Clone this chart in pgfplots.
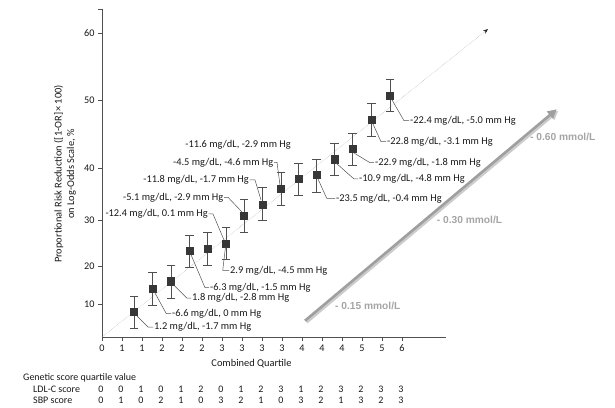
\documentclass[border=0pt]{standalone}
\usepackage{pgfplots}
\pgfplotsset{compat=1.18}
\usetikzlibrary{arrows.meta}
\usepackage{fontspec}
\setmainfont{Carlito}
\newfontfamily\grayfont{Liberation Sans}
\definecolor{axgray}{RGB}{80,80,80}
\definecolor{mkgray}{RGB}{55,55,55}
\definecolor{lblgray}{RGB}{165,165,165}
\begin{document}
\begin{tikzpicture}
\begin{axis}[
  at={(102pt,70pt)}, anchor=south west,
  scale only axis, width=344pt, height=328pt,
  xmin=0, xmax=17.2, ymin=0, ymax=63.6,
  clip=false,
  y coord trafo/.code={\pgfmathparse{(#1)<10 ? 3.3*(#1) : ((#1)<20 ? 33+3.8*((#1)-10) : ((#1)<30 ? 71+4.6*((#1)-20) : ((#1)<40 ? 117+5.2*((#1)-30) : ((#1)<50 ? 169+6.8*((#1)-40) : 237+6.7*((#1)-50)))))}},
  axis x line*=bottom, axis y line*=left,
  ytick={10,20,30,40,50,60}, yticklabels={10,20,30,40,50,60},
  extra y ticks={63.6}, extra y tick labels={},
  xtick={0,1,...,15}, xticklabels={0,1,1,2,2,2,3,3,3,3,4,4,4,5,5,6},
  tick align=outside, major tick length=4pt,
  tick style={axgray, line width=0.6pt},
  axis line style={axgray, line width=0.6pt},
  tick label style={font=\fontsize{10.2}{12}\selectfont, text=black!90},
  /pgf/number format/assume math mode=true,
]
% reference line
\addplot[gray!60, densely dotted, line width=0.5pt, -{Stealth[color=black!85, length=5pt, width=4pt]}, forget plot]
  coordinates {(0,0) (19.3,60.6)};
% error bars (x, lower, upper)
\foreach \xx/\lo/\hi in {1.6/2.7/12.1, 2.53/9.7/18.4, 3.45/11.6/20.1, 4.38/19.6/26.7, 5.28/20.15/27.3,
  6.2/21.4/28.4, 7.1/27.4/34.0, 8.03/30.0/36.3, 8.95/32.9/39.1, 9.82/34.8/40.7,
  10.72/35.4/41.3, 11.63/38.7/43.7, 12.53/40.4/45.1, 13.47/44.7/49.5, 14.4/48.3/53.1}{
  \addplot[axgray, line width=0.6pt, mark=-, mark size=4.3pt, mark options={solid, line width=0.6pt}, forget plot]
    coordinates {(\xx,\lo) (\xx,\hi)};
}
% point estimates
\addplot[only marks, mark=square*, mark size=3.6pt, mark options={fill=mkgray, draw=mkgray}] table {
x y
1.6 7.6
2.53 14.0
3.45 16.0
4.38 23.3
5.28 23.7
6.2 24.9
7.1 30.8
8.03 33.0
8.95 36.1
9.82 37.9
10.72 38.7
11.63 41.3
12.53 42.8
13.47 47.1
14.4 50.7
};
\end{axis}
\begin{scope}[x=1pt, y=-1pt, shift={(0pt,407pt)}]
  % gray arrow with shadow
  \draw[line width=3pt, black!20, -{Triangle[length=9pt, width=9pt]}] (306.5,322.2) -- (558.2,110.8);
  \draw[line width=2.6pt, gray!75, -{Triangle[length=9pt, width=9pt]}] (305,320.7) -- (556.7,109.3);
  \begin{scope}[font=\grayfont\bfseries\fontsize{10.2}{12}\selectfont, text=lblgray, inner sep=0pt]
    \node[anchor=west] at (335,305.7) {- 0.15 mmol/L};
    \node[anchor=west] at (436.7,220) {- 0.30 mmol/L};
    \node[anchor=west] at (530,137.3) {- 0.60 mmol/L};
  \end{scope}
  % leader lines
  \begin{scope}[axgray, line width=0.5pt]
    \draw (137,316) -- (148,327) -- (153,327);
    \draw (154.5,292) -- (166.3,313.7) -- (171,313.7);
    \draw (173.7,285) -- (186.7,298) -- (191,298);
    \draw (191,254.7) -- (205,287.7) -- (209,287.7);
    \draw (225.5,247) -- (222.7,270.5) -- (229,270.5);
    \draw (208.5,214) -- (213,214) -- (224,240);
    \draw (224,197.3) -- (228,197.3) -- (242,212);
    \draw (249.5,180) -- (255,180) -- (261,200);
    \draw (274,162.3) -- (277,162.3) -- (280,185);
    \draw (318,179) -- (326.7,198.3) -- (335,198.3);
    \draw (336,163) -- (354,179) -- (358,179);
    \draw (354,153) -- (370,162.7) -- (374,162.7);
    \draw (373,124) -- (381,141.7) -- (386,141.7);
    \draw (391.5,99) -- (404,120.7) -- (409,120.7);
  \end{scope}
  \begin{scope}[font=\fontsize{10.4}{12}\selectfont, text=black!90, inner sep=0pt]
    \node[anchor=west] at (154,327) {1.2 mg/dL, -1.7 mm Hg};
    \node[anchor=west] at (172,313.7) {-6.6 mg/dL, 0 mm Hg};
    \node[anchor=west] at (192,298) {1.8 mg/dL, -2.8 mm Hg};
    \node[anchor=west] at (210,287.7) {-6.3 mg/dL, -1.5 mm Hg};
    \node[anchor=west] at (230,270.5) {2.9 mg/dL, -4.5 mm Hg};
    \node[anchor=east] at (208,214) {-12.4 mg/dL, 0.1 mm Hg};
    \node[anchor=east] at (223.5,197.3) {-5.1 mg/dL, -2.9 mm Hg};
    \node[anchor=east] at (249,180) {-11.8 mg/dL, -1.7 mm Hg};
    \node[anchor=east] at (273.5,162.3) {-4.5 mg/dL, -4.6 mm Hg};
    \node[anchor=east] at (291,144.3) {-11.6 mg/dL, -2.9 mm Hg};
    \node[anchor=west] at (336,198.3) {-23.5 mg/dL, -0.4 mm Hg};
    \node[anchor=west] at (359,179) {-10.9 mg/dL, -4.8 mm Hg};
    \node[anchor=west] at (375,162.7) {-22.9 mg/dL, -1.8 mm Hg};
    \node[anchor=west] at (387,141.7) {-22.8 mg/dL, -3.1 mm Hg};
    \node[anchor=west] at (410,120.7) {-22.4 mg/dL, -5.0 mm Hg};
  \end{scope}
  % axis titles
  \begin{scope}[font=\fontsize{10.4}{12.5}\selectfont, text=black!90]
    \node[rotate=90, align=center] at (65,174) {Proportional Risk Reduction ([1-OR]\,\texttimes\,100)\\on Log-Odds Scale, \%};
    \node at (251.5,364) {Combined Quartile};
  \end{scope}
  % genetic score table
  \begin{scope}[font=\fontsize{10}{12}\selectfont, text=black!90]
    \node[anchor=west, inner sep=0pt] at (23,377.5) {Genetic score quartile value};
    \node[anchor=west, inner sep=0pt] at (33,389.5) {LDL-C score};
    \node[anchor=west, inner sep=0pt] at (33,400.5) {SBP score};
    \foreach \v [count=\i from 0] in {0,0,1,0,1,2,0,1,2,3,1,2,3,2,3,3}
      \node[inner sep=0pt] at ({101+20*\i},389.5) {\v};
    \foreach \v [count=\i from 0] in {0,1,0,2,1,0,3,2,1,0,3,2,1,3,2,3}
      \node[inner sep=0pt] at ({101+20*\i},400.5) {\v};
  \end{scope}
\end{scope}
\pgfresetboundingbox
\path[use as bounding box] (0,0) rectangle (615pt,407pt);
\end{tikzpicture}
\end{document}
